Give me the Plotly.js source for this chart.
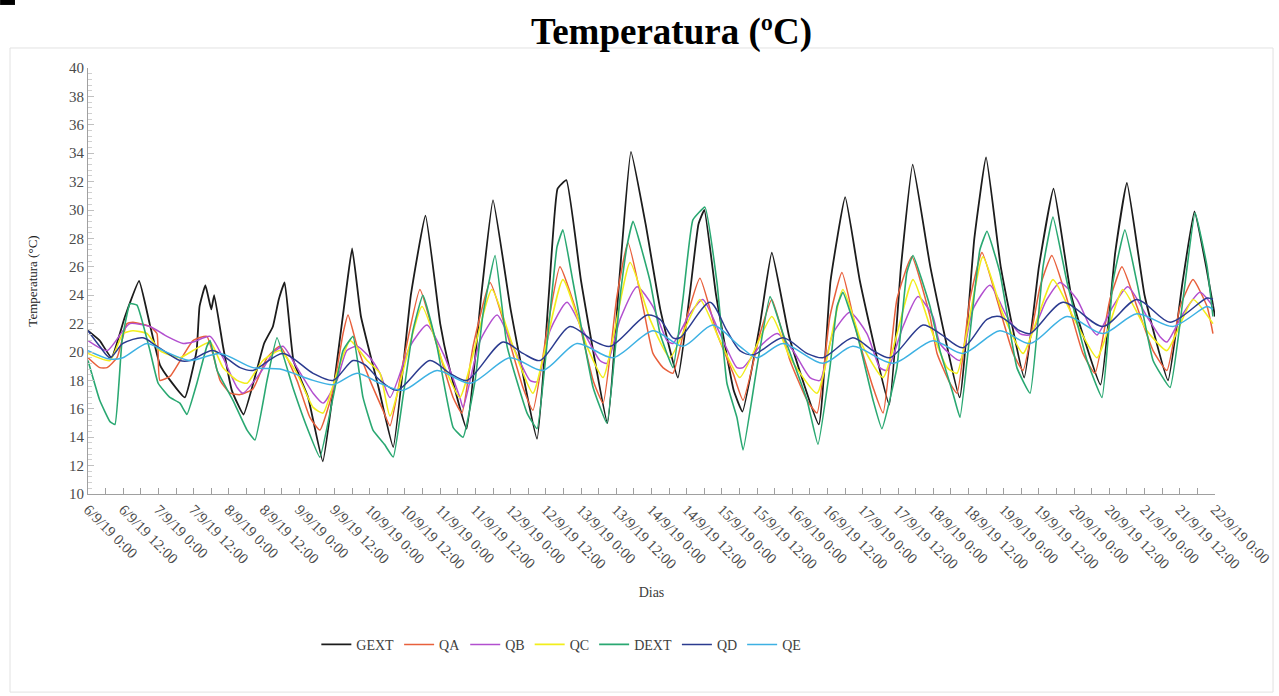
<!DOCTYPE html>
<html>
<head>
<meta charset="utf-8">
<script src="https://cdn.plot.ly/plotly-3.0.1.min.js"></script>
<style>
  html, body { margin: 0; padding: 0; background: #ffffff; }
  #chart { width: 1279px; height: 696px; }
</style>
</head>
<body>
<div id="chart"></div>
<script>
// Hourly readings, 6/9/19 0:00 to 22/9/19 0:00 — [hours since start, °C]
const seriesNames = ["GEXT", "QA", "QB", "QC", "DEXT", "QD", "QE"];

const gext = [[0,21.5],[4,20.8],[8,19.6],[12.6,22.5],[17.4,25.0],[21,22.0],[24.5,19.1],[28,18.0],[33,16.8],[37,20.1],[38,23.2],[40,24.7],[42,23.0],[43,24.0],[46,20.4],[49,17.3],[53,15.6],[60,20.6],[63,21.8],[65,23.7],[67,24.9],[70,19.4],[75,16.8],[80,12.3],[84,18.0],[88,24.4],[90,27.3],[93,22.5],[99,17.5],[104,13.3],[110,24.0],[115,29.6],[120,22.0],[123,19.0],[129,14.6],[134,24.0],[138,30.7],[144,23.0],[153,13.9],[157,24.0],[160,31.5],[163,32.1],[168,25.0],[177,15.0],[181,25.0],[185,34.1],[190,29.0],[195,23.0],[201,18.2],[205,24.0],[208,29.0],[210,30.0],[214,24.0],[220,17.3],[223,15.8],[229,22.0],[233,27.0],[239,21.0],[249,14.9],[253,25.0],[258,30.9],[263,25.0],[273,16.3],[277,26.0],[281,33.2],[287,26.0],[297,16.8],[302,28.0],[306,33.7],[311,26.0],[319,18.2],[324,26.0],[329,31.5],[335,24.0],[345,17.7],[350,27.0],[354,31.9],[360,24.0],[368,18.0],[373,25.0],[377,29.9],[381,26.0],[384,22.5]];

const qa = [[0,19.6],[4,18.9],[6.5,18.9],[9.9,19.6],[13.3,22.0],[15.3,22.1],[21.1,21.8],[23.5,21.3],[24.5,18.0],[28,18.3],[35.8,20.8],[40.5,21.1],[45,18.0],[48.4,17.1],[51.8,17.0],[56.2,17.4],[61,19.6],[65.4,20.4],[71.2,18.0],[75.6,15.4],[79,14.5],[83.5,17.3],[86.9,21.3],[88.6,22.6],[91.7,20.4],[96.1,18.0],[100.5,15.9],[102.9,14.8],[107.3,19.2],[113.1,24.4],[117.5,21.5],[124.4,16.8],[127.4,15.7],[131.2,20.4],[137,24.9],[141.4,22.3],[148.2,17.5],[151.6,15.9],[156.4,21.5],[160.8,26.0],[166.6,22.7],[172.1,18.0],[175.5,16.4],[180.2,23.9],[184,27.7],[189.1,23.2],[192.5,19.9],[195.9,18.9],[199.3,18.5],[204.1,22.5],[208.5,25.2],[214.3,21.3],[219.8,18.5],[223.2,16.6],[229,21.3],[233,23.7],[239.2,19.4],[245,16.6],[248.4,15.7],[252.8,22.5],[256.9,25.6],[262,21.3],[267.5,17.5],[270.9,15.7],[275.6,23.7],[280.7,26.7],[286.9,22.5],[289.3,19.9],[293.7,17.8],[296.1,17.1],[300.5,23.7],[304.6,27.0],[309.7,23.7],[315.2,19.9],[318.6,18.7],[324.4,24.6],[328.4,26.8],[333.6,23.7],[339,19.9],[343.1,18.5],[348.2,23.7],[352.3,26.0],[357.4,23.2],[362.9,20.1],[367.6,18.7],[372.1,23.2],[376.5,25.1],[381.3,23.2],[383.3,21.3]];

const qb = [[0,20.8],[6.5,20.1],[11.9,21.5],[14.3,22.0],[21.1,21.8],[26.9,21.1],[32.4,20.6],[35.8,20.7],[41.6,21.1],[46,19.6],[50.8,17.5],[52.8,17.1],[58.6,18.5],[63,19.9],[66.4,20.4],[71.2,18.9],[76.7,17.1],[80.1,16.4],[84.8,18.0],[88.2,20.1],[91.7,20.4],[96.1,19.6],[99.5,18.5],[102.9,16.8],[109.7,20.4],[115.5,21.9],[121,19.9],[126.7,16.8],[127.8,16.1],[133.6,20.8],[139.4,22.6],[144.8,20.4],[150.6,18.0],[153,17.9],[157.4,21.5],[163.2,23.5],[168.7,21.5],[174.4,19.4],[176.8,19.2],[181.3,22.3],[187.1,24.6],[192.5,23.2],[197.3,20.8],[199.3,20.6],[205.1,22.7],[209.5,23.7],[215.3,21.3],[221.1,18.9],[223.2,18.9],[229,20.4],[234.8,21.3],[240.2,20.1],[246,18.2],[249.4,18.0],[253.8,21.3],[259.6,22.8],[265.4,21.3],[269.8,18.9],[272.2,18.7],[277.7,21.8],[282.8,23.9],[287.9,22.5],[290.3,20.6],[297.1,19.4],[301.5,23.0],[307.3,24.7],[313.1,22.5],[317.5,21.3],[321,21.2],[326.7,23.7],[331.2,24.9],[337,23.7],[341.4,21.8],[343.8,21.2],[349.2,23.2],[354.3,24.6],[360.8,22.5],[365.2,21.1],[367.6,20.7],[373.1,22.7],[378.9,24.2],[383.3,23.2]];

const qc = [[0,19.9],[7.5,19.4],[11.9,21.3],[15.3,21.5],[20.1,21.3],[24.5,20.1],[31.3,19.6],[35.8,20.1],[41.6,20.7],[46,18.9],[50.8,18.0],[54.2,17.8],[59.6,19.4],[65.4,20.1],[71.2,18.5],[76.7,16.1],[80.1,15.7],[84.8,18.5],[89.3,20.8],[95.1,19.4],[99.5,18.5],[102.9,15.5],[113.8,23.2],[121,19.2],[126.7,16.8],[137.6,24.4],[144.8,20.4],[151.6,17.1],[161.8,25.1],[170,20.4],[175.5,18.2],[184.7,26.3],[191.5,22.3],[198.3,19.6],[208.5,23.7],[215.3,20.8],[222.1,18.2],[233,22.5],[239.2,19.6],[248.4,17.1],[257.2,24.4],[264,20.4],[270.9,18.2],[281.1,25.1],[286.9,21.8],[292.7,18.9],[296.1,18.5],[304.9,26.7],[311.7,22.7],[318.6,19.9],[328.8,25.1],[335.6,22.5],[343.8,19.6],[352.6,24.4],[360.8,21.5],[367.6,20.1],[376.5,23.7],[383.3,22.0]];

const dext = [[0,19.4],[4,16.6],[7.5,15.1],[9.2,14.9],[11.6,20.8],[14.3,23.4],[16.7,23.3],[21.1,20.1],[23.9,17.8],[27.9,16.8],[31.3,16.4],[33.7,15.6],[37.1,17.8],[40.5,20.4],[41.6,20.8],[44,18.7],[49.4,16.6],[54.2,14.5],[56.9,13.8],[61,18.0],[64.4,21.0],[69.8,17.5],[74.6,14.7],[79,12.6],[83.5,16.8],[86.9,20.1],[90.3,21.1],[93.7,16.8],[97.1,14.5],[101,13.5],[104,12.6],[107.3,16.8],[110.7,21.5],[114.1,24.0],[118.9,20.4],[124.4,14.7],[127.8,14.0],[131.9,18.0],[134.6,22.7],[138.7,26.8],[142.8,20.4],[149.6,15.7],[153,14.6],[157.4,22.7],[159.8,27.4],[161.8,28.6],[165.2,25.0],[172.1,17.5],[176.8,15.0],[181.3,23.9],[183.6,27.4],[185.7,29.2],[191.5,25.0],[194.9,21.3],[199.3,18.9],[202.7,23.7],[206.1,29.3],[210.2,30.2],[214.3,24.9],[217.7,17.8],[221.1,15.4],[223.2,13.1],[227.9,18.9],[232.4,23.9],[236.8,21.3],[245,16.6],[248.7,13.5],[252.8,18.9],[255.2,23.2],[257.2,24.2],[262,21.3],[267.5,16.6],[270.5,14.6],[275.6,18.9],[279,25.6],[281.1,26.8],[286.9,23.2],[290.3,20.1],[294.7,17.1],[297.1,15.4],[300.5,21.3],[303.9,27.2],[306.3,28.5],[310.7,25.6],[316.5,18.9],[321,17.1],[325.4,26.0],[328.8,29.5],[333.6,24.9],[340.4,19.4],[345.5,16.8],[349.2,24.9],[353.3,28.6],[357.4,24.9],[362.9,19.4],[368.7,17.5],[373.1,23.7],[377.2,29.8],[381.3,26.0],[383.3,22.5]];

const qd = [[0,21.5],[4,20.4],[7.5,19.6],[11.9,20.6],[18.7,21.0],[23.5,20.4],[31.3,19.4],[34.8,19.4],[42.6,20.1],[51.8,18.9],[56.2,18.7],[66.4,19.9],[76.7,18.5],[83.5,18.0],[90.3,19.4],[94.4,19.1],[99.5,18.0],[105.3,17.3],[116.5,19.4],[123.3,18.5],[129.1,18.0],[141.4,20.7],[148.2,19.9],[154,19.4],[164.2,21.8],[172.1,20.8],[177.9,20.4],[190.5,22.6],[194.9,22.3],[199.3,21.0],[201.7,21.0],[211.9,23.5],[217.7,21.5],[222.1,20.1],[226.6,19.8],[236.8,21.0],[245,19.9],[250.4,19.6],[260.6,21.0],[267.5,20.1],[273.3,19.6],[284.5,21.9],[290.3,21.3],[298.1,20.3],[306.3,22.3],[310.7,22.5],[317.5,21.5],[321,21.3],[332.2,23.5],[345.8,21.8],[357.4,23.7],[368.7,22.1],[381.3,23.8],[383.3,23.7]];

const qe = [[0,20.1],[7.5,19.5],[11.9,19.6],[20.1,20.6],[25.6,20.1],[34.8,19.4],[45,19.9],[56.2,18.9],[65.4,18.8],[76.7,18.0],[83.5,17.7],[91.7,18.5],[99.5,17.8],[107.3,17.3],[118.9,18.7],[130.2,17.8],[143.8,19.6],[155,18.7],[166.6,20.6],[178.9,19.6],[192.5,21.5],[202.7,20.4],[212.9,21.9],[222.1,20.4],[227.9,19.6],[236.8,20.6],[250.4,19.2],[260.6,20.4],[274.3,19.2],[287.9,20.8],[298.1,19.9],[310.7,21.5],[321,20.6],[333.6,22.5],[345.8,21.3],[357.4,22.7],[369.7,21.8],[381.3,23.2],[383.3,23.0]];

const tickLabels = [
  "6/9/19 0:00","6/9/19 12:00","7/9/19 0:00","7/9/19 12:00","8/9/19 0:00","8/9/19 12:00",
  "9/9/19 0:00","9/9/19 12:00","10/9/19 0:00","10/9/19 12:00","11/9/19 0:00","11/9/19 12:00",
  "12/9/19 0:00","12/9/19 12:00","13/9/19 0:00","13/9/19 12:00","14/9/19 0:00","14/9/19 12:00",
  "15/9/19 0:00","15/9/19 12:00","16/9/19 0:00","16/9/19 12:00","17/9/19 0:00","17/9/19 12:00",
  "18/9/19 0:00","18/9/19 12:00","19/9/19 0:00","19/9/19 12:00","20/9/19 0:00","20/9/19 12:00",
  "21/9/19 0:00","21/9/19 12:00","22/9/19 0:00"
];

const seriesData = [gext, qa, qb, qc, dext, qd, qe];
const seriesColors = ["#1c1c1c", "#e8603c", "#b24fcf", "#f2ee1c", "#2aa872", "#2b3b8f", "#3db1e3"];
const seriesWidths = [1.8, 1.5, 1.5, 1.6, 1.6, 1.5, 1.5];
const seriesSmoothing = [0.35, 0.45, 0.6, 0.5, 0.35, 0.8, 0.8];

const serif = "Liberation Serif, Times New Roman, serif";

const traces = seriesNames.map((name, i) => ({
  type: "scatter",
  mode: "lines",
  name: name,
  x: seriesData[i].map(p => p[0]),
  y: seriesData[i].map(p => p[1]),
  line: { color: seriesColors[i], width: seriesWidths[i], shape: "spline", smoothing: seriesSmoothing[i] },
  hoverinfo: "x+y+name"
}));

const tickVals = tickLabels.map((_, i) => i * 12);

// plot area spans 88..1215 px horizontally, 68..494 px vertically
const layout = {
  width: 1279,
  height: 696,
  paper_bgcolor: "#ffffff",
  plot_bgcolor: "#ffffff",
  margin: { l: 88, r: 64, t: 68, b: 202, autoexpand: false },
  title: {
    text: "<b>Temperatura (ºC)</b>",
    font: { family: serif, size: 37, color: "#000000" },
    xref: "container", x: 0.525, xanchor: "center",
    yref: "container", y: 0.955, yanchor: "middle"
  },
  xaxis: {
    range: [0, 384],
    tickmode: "array",
    tickvals: tickVals,
    ticktext: tickLabels,
    tickangle: 45,
    tickfont: { family: serif, size: 15, color: "#4a4a4a" },
    ticks: "inside",
    ticklen: 6,
    tickcolor: "#a0a0a0",
    minor: { dtick: 6, tick0: 0, ticks: "inside", ticklen: 6, tickcolor: "#a0a0a0" },
    showline: true,
    linecolor: "#a0a0a0",
    linewidth: 1,
    showgrid: false,
    zeroline: false,
    title: { text: "Dias", font: { family: serif, size: 14, color: "#404040" }, standoff: 16 },
    automargin: false
  },
  yaxis: {
    range: [10, 40],
    dtick: 2,
    tick0: 10,
    tickfont: { family: serif, size: 15, color: "#4a4a4a" },
    ticks: "inside",
    ticklen: 6,
    tickcolor: "#c0c0c0",
    minor: { dtick: 0.4, ticks: "inside", ticklen: 4, tickcolor: "#d0d0d0" },
    showline: true,
    linecolor: "#a0a0a0",
    linewidth: 1,
    showgrid: false,
    zeroline: false,
    title: { text: "Temperatura (°C)", font: { family: serif, size: 13, color: "#202020" }, standoff: 28 },
    automargin: false
  },
  showlegend: true,
  legend: {
    orientation: "h",
    x: 0.42, xanchor: "center",
    y: -0.354, yanchor: "middle",
    font: { family: serif, size: 14, color: "#404040" },
    bgcolor: "rgba(0,0,0,0)",
    traceorder: "normal"
  },
  shapes: [
    {
      type: "rect", xref: "paper", yref: "paper",
      x0: -0.0692, x1: 1.0515, y0: -0.465, y1: 1.047,
      line: { color: "#e2e2e2", width: 1 }, fillcolor: "rgba(0,0,0,0)", layer: "below"
    },
    {
      type: "rect", xref: "paper", yref: "paper",
      x0: -0.078, x1: -0.0648, y0: 1.148, y1: 1.16,
      line: { width: 0 }, fillcolor: "#000000"
    }
  ]
};

Plotly.newPlot("chart", traces, layout, { displayModeBar: false, responsive: false });
</script>
</body>
</html>
